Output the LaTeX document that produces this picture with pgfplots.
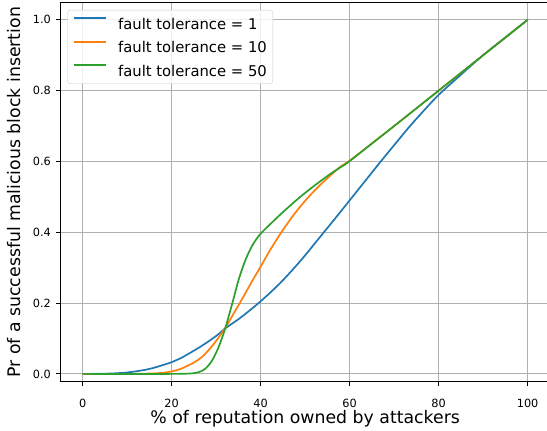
\documentclass[border=0pt]{standalone}
\usepackage{fontspec}
\setmainfont{DejaVu Sans}
\usepackage{pgfplots}
\pgfplotsset{compat=1.18}
\usetikzlibrary{calc}
\definecolor{c0}{HTML}{1F77B4}
\definecolor{c1}{HTML}{FF7F0E}
\definecolor{c2}{HTML}{2CA02C}
\definecolor{gridc}{HTML}{B0B0B0}
\definecolor{legc}{HTML}{CCCCCC}
\begin{document}
\begin{tikzpicture}
\begin{axis}[
  scale only axis, width=489.5pt, height=379.1pt,
  xmin=-5, xmax=105, ymin=-0.0226, ymax=1.048,
  xtick={0,20,40,60,80,100}, ytick={0,0.2,0.4,0.6,0.8,1.0},
  yticklabel style={/pgf/number format/fixed, /pgf/number format/fixed zerofill, /pgf/number format/precision=1},
  /pgf/number format/assume math mode=true,
  tick label style={font=\fontsize{11.3}{13}\selectfont},
  xticklabel style={anchor=base, yshift=-21.5pt},
  yticklabel style={anchor=east, inner sep=0pt, xshift=-5.3pt},
  grid=major, grid style={gridc, line width=0.9pt},
  tick align=outside, major tick length=4pt, tick style={black, line width=0.9pt},
  tick pos=left,
  axis line style={line width=0.9pt},
  label style={font=\fontsize{17.3}{20}\selectfont},
  xlabel={\% of reputation owned by attackers},
  ylabel={Pr of a successful malicious block insertion},
  xlabel style={at={(axis description cs:0.5,-0.1095)}, anchor=base},
  ylabel style={at={(axis description cs:-0.0805,0.5)}, anchor=base},
  legend cell align=left,
  legend image code/.code={\draw[#1, line width=1.9pt] (0pt,5.5pt) -- (31.7pt,5.5pt);},
  legend style={at={(axis description cs:0,1)}, anchor=north west, xshift=6.9pt, yshift=-7.2pt,
    draw=legc, rounded corners=3pt, fill=white, fill opacity=0.8, text opacity=1,
    font=\fontsize{14.8}{17}\selectfont, inner xsep=6pt, inner ysep=7.2pt, row sep=11.5pt,
    nodes={inner sep=0pt, text height=11.2pt, text depth=0pt},
    /tikz/every odd column/.append style={column sep=11pt}},
  every axis plot/.append style={line width=1.7pt, smooth},
]
\addplot[c0] coordinates {(0,0) (5,0.0005) (10,0.004) (15,0.014) (20,0.033) (22,0.044) (26.5,0.077) (30,0.107) (32.1,0.129) (35.5,0.159) (40,0.205) (44.5,0.258) (49,0.32) (53.5,0.389) (57,0.443) (60,0.49) (63.5,0.545) (67,0.6) (70,0.646) (73.7,0.702) (77,0.748) (80,0.788) (85,0.845) (90,0.9) (95,0.95) (100,1.0)};
\addlegendentry{fault tolerance = 1}
\addplot[c1] coordinates {(0,0) (10,0) (15,0.001) (18,0.003) (20,0.007) (22,0.014) (25,0.032) (27,0.05) (28.5,0.07) (30,0.093) (32.1,0.131) (34,0.172) (36,0.215) (38,0.26) (40,0.303) (42,0.347) (44.5,0.397) (47,0.442) (49,0.474) (51,0.503) (53.5,0.535) (56,0.564) (58,0.586) (60,0.602) (65,0.651) (70,0.70) (80,0.80) (90,0.90) (100,1.0)};
\addlegendentry{fault tolerance = 10}
\addplot[c2] coordinates {(0,0) (20,0) (24,0.001) (25.4,0.003) (26.5,0.007) (27.6,0.015) (29.1,0.038) (30.6,0.077) (32.1,0.131) (33.6,0.198) (35.1,0.268) (36.6,0.322) (38.1,0.362) (39.6,0.39) (41.1,0.41) (42.5,0.427) (44.5,0.451) (46.7,0.476) (49,0.501) (51.2,0.523) (53.5,0.545) (55.7,0.565) (58,0.584) (60,0.601) (70,0.70) (80,0.80) (90,0.90) (100,1.0)};
\addlegendentry{fault tolerance = 50}
\end{axis}
\pgfresetboundingbox
\path[use as bounding box] ($(current axis.south west)+(-60.4pt,-49pt)$) rectangle ($(current axis.north east)+(-2.9pt,2.8pt)$);
\end{tikzpicture}
\end{document}
